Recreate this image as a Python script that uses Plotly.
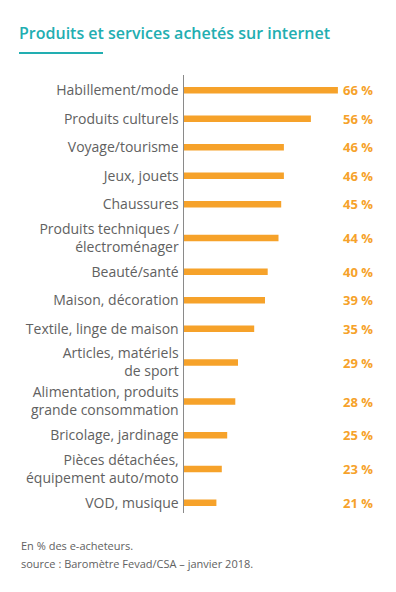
import plotly.graph_objects as go

categories = [
    "Habillement/mode",
    "Produits culturels",
    "Voyage/tourisme",
    "Jeux, jouets",
    "Chaussures",
    "Produits techniques /<br>électroménager",
    "Beauté/santé",
    "Maison, décoration",
    "Textile, linge de maison",
    "Articles, matériels<br>de sport",
    "Alimentation, produits<br>grande consommation",
    "Bricolage, jardinage",
    "Pièces détachées,<br>équipement auto/moto",
    "VOD, musique",
]
values = [66, 56, 46, 46, 45, 44, 40, 39, 35, 29, 28, 25, 23, 21]
value_labels = [f"{v} %" for v in values]

title_text = "Produits et services achetés sur internet"
note1 = "En % des e-acheteurs."
note2 = "source : Baromètre Fevad/CSA – janvier 2018."

# Layout: row slot heights depend on number of label lines
W, H = 396, 592
L, R, T, B = 184, 21, 75, 79
SINGLE, DOUBLE = 28.5, 39.0
positions = []
acc = 0.0
for c in categories:
    h = DOUBLE if "<br>" in c else SINGLE
    positions.append(acc + h / 2)
    acc += h
plot_h = H - T - B
y_range = [plot_h - 1, -1]

plot_w = W - L - R
x0 = 9
px_per_unit = 2.7
x_range = [x0, x0 + plot_w / px_per_unit]

teal = "#22AEB1"
orange = "#F6A22A"
gray_text = "#616161"

fig = go.Figure()
fig.add_trace(go.Bar(
    x=values,
    y=positions,
    orientation="h",
    width=6.5,
    marker=dict(color=orange, line=dict(width=0)),
    hoverinfo="skip",
))

for p, lab in zip(positions, value_labels):
    fig.add_annotation(
        x=1, xref="paper", y=p, yref="y",
        text=f"<b>{lab}</b>", showarrow=False,
        xanchor="right", yanchor="middle",
        font=dict(family="Open Sans", size=13, color=orange),
    )

def px_x(px):
    return (px - L) / plot_w

def px_y(py):
    return (H - B - py) / plot_h

fig.add_shape(type="line", xref="paper", yref="paper",
              x0=px_x(19), x1=px_x(103), y0=px_y(53), y1=px_y(53),
              line=dict(color=teal, width=2))

fig.add_annotation(x=px_x(19), xref="paper", y=px_y(545), yref="paper",
                   text=note1, showarrow=False, xanchor="left", yanchor="middle",
                   font=dict(family="Open Sans", size=11, color=gray_text))
fig.add_annotation(x=px_x(19), xref="paper", y=px_y(563), yref="paper",
                   text=note2, showarrow=False, xanchor="left", yanchor="middle",
                   font=dict(family="Open Sans", size=11, color=gray_text))

fig.update_layout(
    width=W, height=H,
    margin=dict(l=L, r=R, t=T, b=B),
    paper_bgcolor="white", plot_bgcolor="white",
    showlegend=False,
    title=dict(text=title_text, x=19 / W, xref="container", xanchor="left",
               y=1 - 33 / H, yref="container", yanchor="middle",
               font=dict(family="Open Sans", size=16, color=teal, weight=600)),
    xaxis=dict(range=x_range, visible=False, showgrid=False, zeroline=False),
    yaxis=dict(range=y_range, tickmode="array", tickvals=positions, ticktext=categories,
               showgrid=False, zeroline=False, showline=True, linecolor="#8A8A8A",
               linewidth=1.5, ticks="", ticklabelstandoff=1,
               tickfont=dict(family="Open Sans", size=14, color=gray_text)),
)

fig.write_html("out.html", config={"displayModeBar": False, "staticPlot": True},
               post_script="document.body.style.margin='0';")
